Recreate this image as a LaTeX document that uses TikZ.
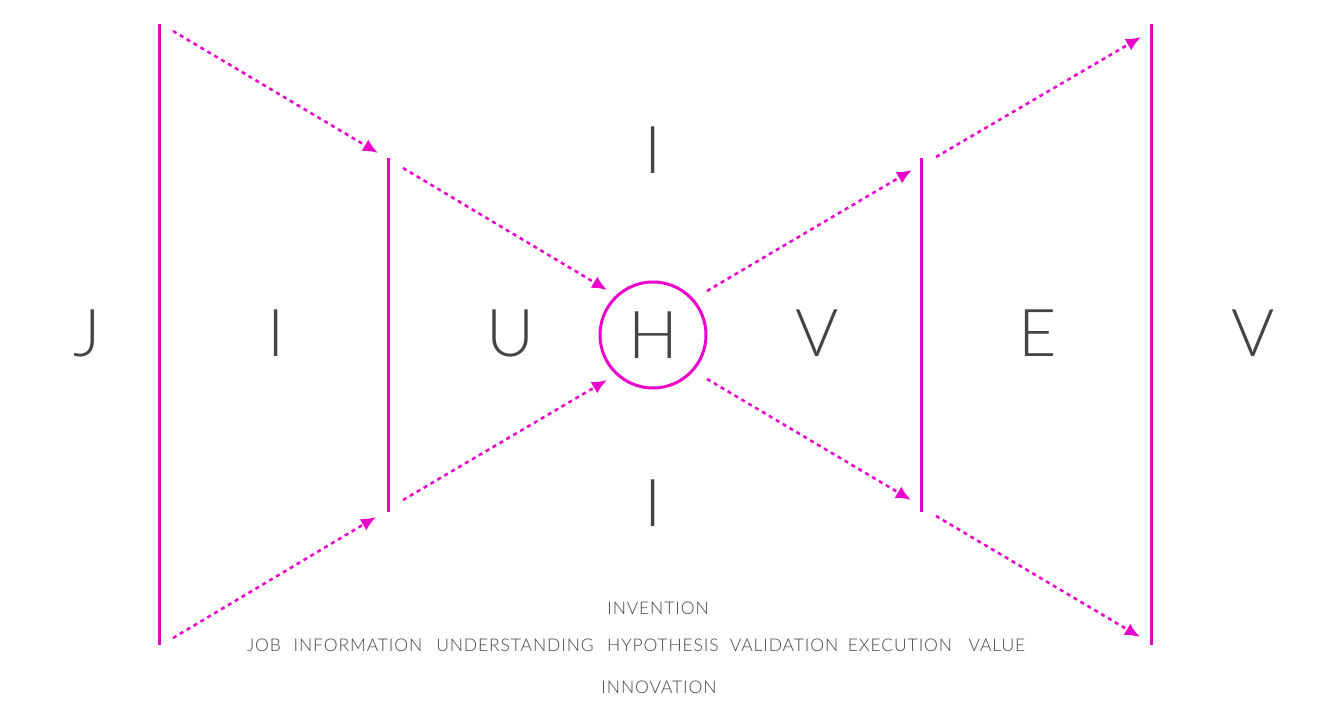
\documentclass[tikz,border=0pt]{standalone}
\usepackage{fontspec}
\usepackage{tikz}
\usetikzlibrary{positioning}
\usetikzlibrary{arrows.meta}
\newfontfamily\thinfont{Lato Light}
\newfontfamily\widefont{Lato Light}[LetterSpace=5]
\definecolor{pinkline}{RGB}{236,0,204}
\definecolor{inkgray}{RGB}{68,68,68}
\tikzset{x=1pt, y=-1pt,
bar/.style={ % the vertical stage walls
draw=pinkline,
line width=3pt},
flow/.style={ % dashed arrows between stages
draw=pinkline,
line width=2.5pt,
dash pattern=on 4pt off 4pt,
-{Latex[length=15pt,width=13pt]}},
letter/.style={ % big stage letters
text=inkgray,
font=\thinfont\fontsize{66}{66}\selectfont},
word/.style={ % small captions
text=inkgray,
font=\widefont\fontsize{17.5}{17.5}\selectfont}}

\begin{document}
\begin{tikzpicture}
\useasboundingbox (0,0) rectangle (1336,711);
% walls
\draw[bar] (159,24) coordinate (w1t) -- (159,645) coordinate (w1b);
\draw[bar] (388,158) coordinate (w2t) -- (388,512) coordinate (w2b);
\draw[bar] (921,158) coordinate (w3t) -- (921,512) coordinate (w3b);
\draw[bar] (1151,24) coordinate (w4t) -- (1151,645) coordinate (w4b);
% centre
\node[draw=pinkline, line width=3pt, circle, minimum size=106pt, inner sep=0pt, letter] (hyp) at (653,335) {H};
% letters
\node[letter] (job) at (87,333) {J};
\node[letter] (info) at (276,333) {I};
\node[letter] (und) at (510,333) {U};
\node[letter] (val) at (817,333) {V};
\node[letter] (exe) at (1038,333) {E};
\node[letter] (value) at (1253,333) {V};
\node[letter] (inv) at (653,150) {I};
\node[letter] (inn) at (653,503) {I};
% arrow ends
\coordinate (a1s) at (173,31);  \coordinate (a1e) at (378,153);
\coordinate (a2s) at (403,168); \coordinate (a2e) at (607,290);
\coordinate (a3s) at (173,638); \coordinate (a3e) at (376,517);
\coordinate (a4s) at (403,500); \coordinate (a4e) at (607,380);
\coordinate (a5s) at (707,291); \coordinate (a5e) at (912,170);
\coordinate (a6s) at (936,157); \coordinate (a6e) at (1141,37);
\coordinate (a7s) at (707,379); \coordinate (a7e) at (911,500);
\coordinate (a8s) at (936,516); \coordinate (a8e) at (1140,637);
\foreach \i in {1,...,8}
  \draw[flow] (a\i s) -- (a\i e);
% captions
\node[word] (tinv) at (658,608) {INVENTION};
\node[word] (tjob) at (264,645) {JOB};
\node[word] (tinfo) at (358,645) {INFORMATION};
\node[word] (tund) at (515,645) {UNDERSTANDING};
\node[word] (thyp) at (663,645) {HYPOTHESIS};
\node[word] (tval) at (784,645) {VALIDATION};
\node[word] (texe) at (900,645) {EXECUTION};
\node[word] (tvalue) at (997,645) {VALUE};
\node[word] (tinn) at (659,687) {INNOVATION};
\end{tikzpicture}
\end{document}
